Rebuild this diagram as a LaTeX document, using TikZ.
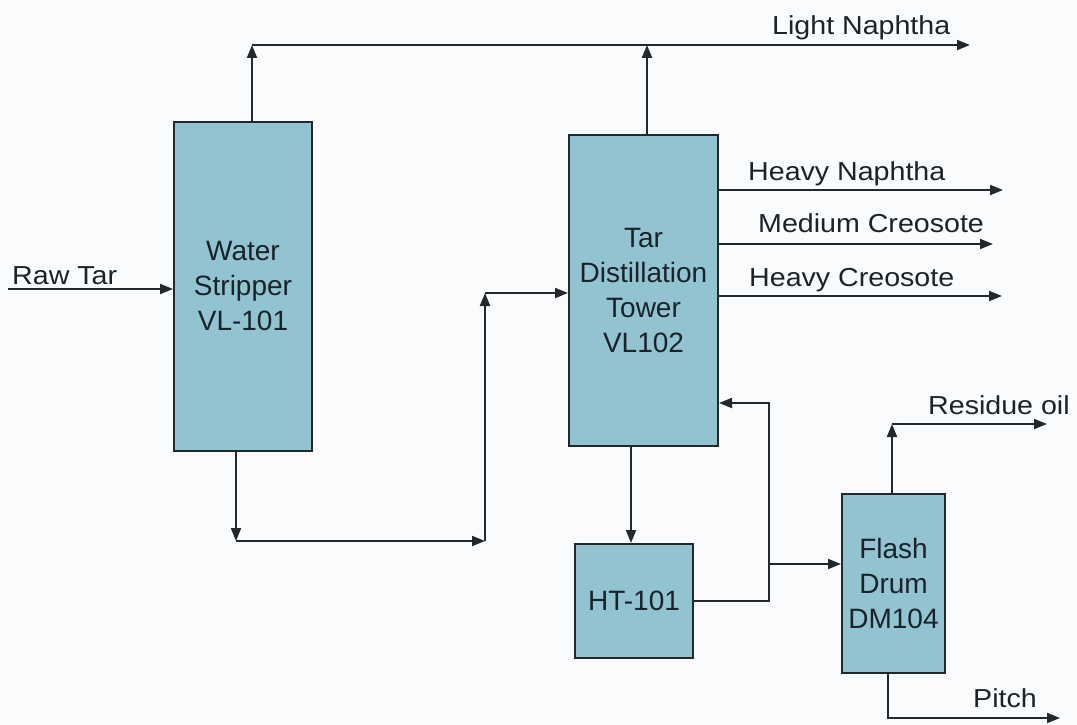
\documentclass[tikz,border=0pt]{standalone}
\usepackage{fontspec}
\setmainfont{Liberation Sans}
\newfontfamily\labfont{Liberation Sans}[FakeStretch=1.1]
\usetikzlibrary{arrows.meta}

\definecolor{unitfill}{RGB}{145,196,208}
\definecolor{inkline}{RGB}{36,40,44}
\definecolor{inktext}{RGB}{26,34,42}
\definecolor{paper}{RGB}{249,251,252}

\tikzset{
  unit/.style={draw=inkline, line width=2pt, fill=unitfill, inner sep=0pt,
    align=center, text=inktext, font=\fontsize{28}{35}\selectfont},
  lab/.style={inner sep=0pt, text=inktext, font=\labfont\fontsize{26}{30}\selectfont},
  flow/.style={draw=inkline, line width=2pt, -{Triangle[length=13pt,width=10pt]}},
  pipe/.style={draw=inkline, line width=2pt}
}

\begin{document}
\begin{tikzpicture}[x=1pt,y=-1pt]
    \fill[paper] (0,0) rectangle (1077,725);
    \useasboundingbox (0,0) rectangle (1077,725);

    % units
    \node[unit, minimum width=138pt, minimum height=329pt] (strip) at (243,286.5) {Water\\Stripper\\VL-101};
    \node[unit, minimum width=149pt, minimum height=311pt] (tower) at (643.5,290.5) {Tar\\Distillation\\Tower\\VL102};
    \node[unit, minimum width=118pt, minimum height=114pt] (ht) at (634,601) {HT-101};
    \node[unit, minimum width=103pt, minimum height=179pt] (flash) at (893.5,583.5) {Flash\\Drum\\DM104};

    % stream labels
    \node[lab, anchor=base west] (rawlbl) at (12,284) {Raw Tar};
    \node[lab, anchor=base west] (lnlbl) at (772,35) {Light Naphtha};
    \node[lab, anchor=base west] (hnlbl) at (748,180) {Heavy Naphtha};
    \node[lab, anchor=base west] (mclbl) at (758,232) {Medium Creosote};
    \node[lab, anchor=base west] (hclbl) at (749,286) {Heavy Creosote};
    \node[lab, anchor=base west] (rolbl) at (928,414) {Residue oil};
    \node[lab, anchor=base west] (pilbl) at (973,707) {Pitch};

    \coordinate (rawin) at (8,289);
    \coordinate (lnc) at (252,45);
    \coordinate (lnend) at (970,45);
    \coordinate (sbc) at (236,541);
    \coordinate (vbc) at (485,541);
    \coordinate (vtc) at (485,293);
    \coordinate (hnend) at (1003,190);
    \coordinate (mcend) at (993,244);
    \coordinate (hcend) at (1002,296);
    \coordinate (rj) at (769,601);
    \coordinate (rtop) at (769,403);
    \coordinate (fj) at (769,564);
    \coordinate (roc) at (892,424);
    \coordinate (roend) at (1047,424);
    \coordinate (pc) at (888,718);
    \coordinate (pend) at (1060,718);

    % feed and stripper
    \draw[flow] (rawin) -- (rawin -| strip.west);
    \draw[flow] ([xshift=9pt]strip.north) -- (lnc);
    \draw[flow] (lnc) -- (lnend);
    \draw[flow] ([xshift=-7pt]strip.south) -- (sbc);
    \draw[flow] (sbc) -- (vbc);
    \draw[flow] (vbc) -- (vtc);
    \draw[flow] (vtc) -- (vtc -| tower.west);

    % tower products
    \draw[flow] ([xshift=3.5pt]tower.north) -- ([xshift=3.5pt]tower.north |- lnend);
    \draw[flow] (tower.east |- hnend) -- (hnend);
    \draw[flow] (tower.east |- mcend) -- (mcend);
    \draw[flow] (tower.east |- hcend) -- (hcend);

    % bottoms loop
    \draw[flow] ([xshift=-12.5pt]tower.south) -- ([xshift=-3pt]ht.north);
    \draw[flow] (ht.east) -- (rj) -- (rtop) -- (rtop -| tower.east);
    \draw[flow] (fj) -- (fj -| flash.west);

    % flash drum
    \draw[flow] ([xshift=-1.5pt]flash.north) -- (roc);
    \draw[flow] (roc) -- (roend);
    \draw[flow] ([xshift=-5.5pt]flash.south) -- (pc) -- (pend);
\end{tikzpicture}
\end{document}
